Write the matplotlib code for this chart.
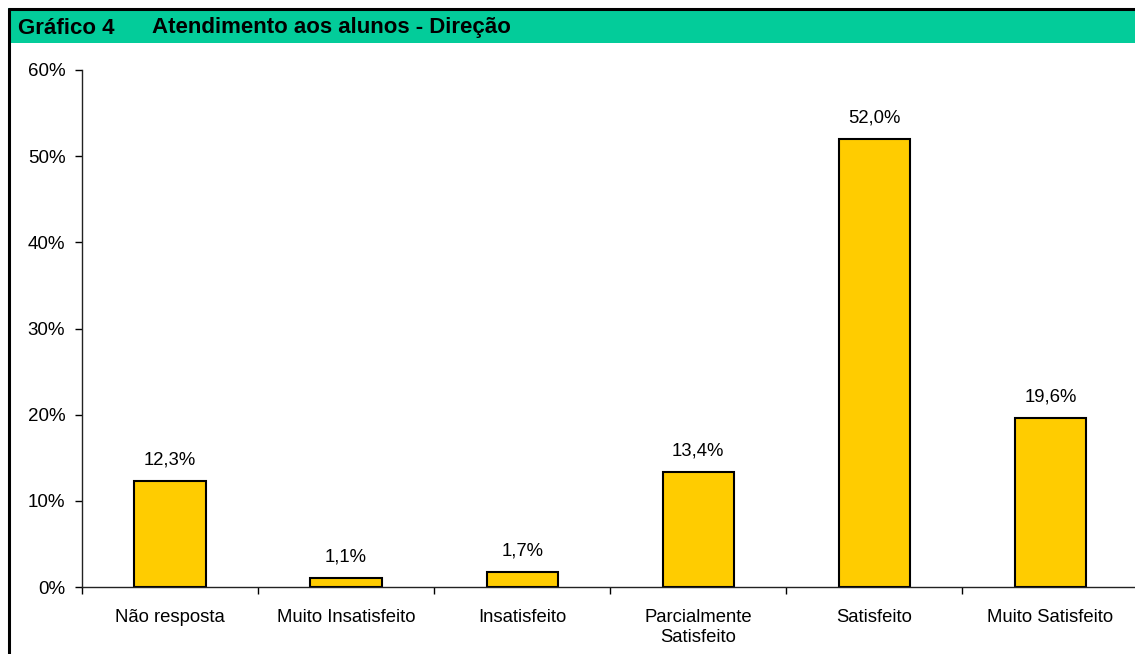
import numpy as np
import matplotlib.pyplot as plt
from matplotlib.patches import Rectangle
from matplotlib.lines import Line2D
from matplotlib.ticker import FuncFormatter, FixedLocator

plt.rcParams['font.family'] = ['Liberation Sans', 'DejaVu Sans']

# Data
categorias = ["Não resposta", "Muito Insatisfeito", "Insatisfeito",
              "Parcialmente\nSatisfeito", "Satisfeito", "Muito Satisfeito"]
valores = [12.3, 1.1, 1.7, 13.4, 52.0, 19.6]
yticks = [0, 10, 20, 30, 40, 50, 60]

fig = plt.figure(figsize=(11.35, 6.54), dpi=100)

# Header bar
fig.patches.append(Rectangle((8 / 1135, 1 - 43 / 654), 1, 35 / 654,
                             transform=fig.transFigure, facecolor="#03CC9A",
                             edgecolor="none", zorder=0))
fig.lines.append(Line2D([8 / 1135, 1], [1 - 9 / 654, 1 - 9 / 654],
                        transform=fig.transFigure, color="black", linewidth=2.2,
                        solid_capstyle="butt"))
fig.lines.append(Line2D([9 / 1135, 9 / 1135], [0, 1 - 8 / 654],
                        transform=fig.transFigure, color="black", linewidth=2.2,
                        solid_capstyle="butt"))
fig.text(18 / 1135, 1 - 28 / 654, "Gráfico 4", fontsize=16, fontweight="bold",
         va="center", ha="left")
fig.text(152 / 1135, 1 - 28 / 654, "Atendimento aos alunos - Direção", fontsize=16,
         fontweight="bold", va="center", ha="left")

ax = fig.add_axes([82 / 1135, 1 - 587 / 654, 1 - 82 / 1135 + 0.003, (587 - 70) / 654])
x = np.arange(len(categorias))
bars = ax.bar(x, valores, width=0.405, color="#FFCC00", edgecolor="black", linewidth=1.5)

for bar, v in zip(bars, valores):
    ax.annotate(f"{v:.1f}%".replace(".", ","),
                (bar.get_x() + bar.get_width() / 2, bar.get_height()),
                xytext=(0, 9), textcoords="offset points",
                ha="center", va="bottom", fontsize=13.3)

ax.set_xlim(-0.5, len(categorias) - 0.5)
ax.set_ylim(0, 60)
ax.set_yticks(yticks)
ax.yaxis.set_major_formatter(FuncFormatter(lambda v, p: f"{v:.0f}%"))
ax.set_xticks(x)
ax.set_xticklabels(categorias, fontsize=13.3, va="top", linespacing=1.3)
ax.xaxis.set_minor_locator(FixedLocator(np.arange(-0.5, len(categorias), 1.0)))
ax.tick_params(axis="x", which="major", length=0, pad=15.5)
ax.tick_params(axis="x", which="minor", length=5, direction="out", width=1)
ax.tick_params(axis="y", length=5, width=1, pad=7, labelsize=13.5)

for s in ["top", "right"]:
    ax.spines[s].set_visible(False)
for s in ["left", "bottom"]:
    ax.spines[s].set_linewidth(1)
    ax.spines[s].set_color("#222222")

fig.savefig("out.png", dpi=100)
